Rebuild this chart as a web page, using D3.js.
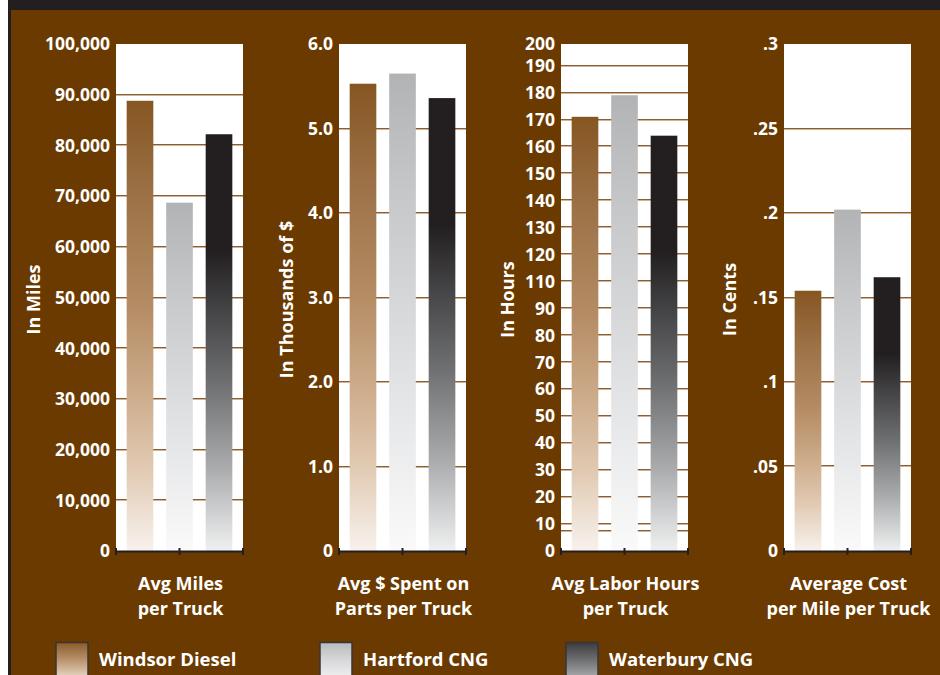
<!DOCTYPE html>
<html>
<head>
<meta charset="utf-8">
<script src="https://cdn.jsdelivr.net/npm/d3@7"></script>
<style>
  html, body { margin: 0; padding: 0; background: #ffffff; }
  svg { display: block; }
  text { font-family: "Open Sans", "Noto Sans", sans-serif; font-weight: 700; fill: #ffffff; }
</style>
</head>
<body>
<div id="chart"></div>
<script>
// ---------------- DATA ----------------
const series = ["Windsor Diesel", "Hartford CNG", "Waterbury CNG"];
const categoryLabels = [
  ["Avg Miles", "per Truck"],
  ["Avg $ Spent on", "Parts per Truck"],
  ["Avg Labor Hours", "per Truck"],
  ["Average Cost", "per Mile per Truck"]
];
const axisTitles = ["In Miles", "In Thousands of $", "In Hours", "In Cents"];

const milesValues = [88800, 68700, 82200];
const partsValues = [5.53, 5.65, 5.36];
const hoursValues = [171, 179, 164];
const costValues  = [0.154, 0.202, 0.162];

const milesTicks = [0, 10000, 20000, 30000, 40000, 50000, 60000, 70000, 80000, 90000, 100000];
const milesTickLabels = ["0", "10,000", "20,000", "30,000", "40,000", "50,000", "60,000", "70,000", "80,000", "90.000", "100,000"];
const partsTicks = [0, 1, 2, 3, 4, 5, 6];
const partsTickLabels = ["0", "1.0", "2.0", "3.0", "4.0", "5.0", "6.0"];
const hoursTicks = [0, 10, 20, 30, 40, 50, 60, 70, 80, 90, 110, 120, 130, 140, 150, 160, 170, 180, 190, 200];
const hoursTickLabels = hoursTicks.map(String);
const hoursExtraGrid = [7.4];
const costTicks = [0, 0.05, 0.1, 0.15, 0.2, 0.25, 0.3];
const costTickLabels = ["0", ".05", ".1", ".15", ".2", ".25", ".3"];

// ---------------- LAYOUT ----------------
const W = 940, H = 675;
const plotTop = 44, plotBottom = 551, plotW = 127;
const panelLefts = [116, 339, 561, 784];
const titleOffsets = [-76, -46, -47, -48];
const legendX = [56, 320, 566];

const svg = d3.select("#chart").append("svg").attr("width", W).attr("height", H);
const defs = svg.append("defs");

const gradStops = [
  [[0, "#865622"], [0.2, "#9b7045"], [0.45, "#b48b63"], [0.65, "#cdac8b"], [0.82, "#e1cab3"], [1, "#f8f2ed"]],
  [[0, "#b2b3b5"], [0.25, "#c6c7c9"], [0.65, "#e2e3e5"], [1, "#fafafa"]],
  [[0, "#231f20"], [0.28, "#231f20"], [0.45, "#4b4b4d"], [0.6, "#6f7072"], [0.8, "#aaabad"], [1, "#eff0f0"]]
];
const swatchStops = [
  [[0, "#8a5b2a"], [0.5, "#b8916a"], [1, "#e6d3c1"]],
  [[0, "#b9babc"], [0.5, "#d5d6d8"], [1, "#eeeeef"]],
  [[0, "#3c3c3e"], [0.5, "#6d6e70"], [1, "#a6a7a9"]]
];
function addGrad(id, stops) {
  const g = defs.append("linearGradient").attr("id", id)
    .attr("x1", 0).attr("y1", 0).attr("x2", 0).attr("y2", 1);
  stops.forEach(s => g.append("stop").attr("offset", s[0]).attr("stop-color", s[1]));
}
gradStops.forEach((stops, i) => addGrad("g" + i, stops));
swatchStops.forEach((stops, i) => addGrad("s" + i, stops));

// background
svg.append("rect").attr("x", 0).attr("y", 0).attr("width", W).attr("height", H).attr("fill", "#ffffff");
svg.append("rect").attr("x", 8).attr("y", 0).attr("width", W - 8).attr("height", H).attr("fill", "#231f20");
svg.append("rect").attr("x", 11).attr("y", 10).attr("width", W - 11).attr("height", H - 10).attr("fill", "#6a3a00");

// scales
const plotH = plotBottom - plotTop;
const hoursStep = plotH / 18.8;
const scales = [
  d3.scaleLinear().domain([0, 100000]).range([plotBottom, plotTop]),
  d3.scaleLinear().domain([0, 6]).range([plotBottom, plotTop]),
  d3.scaleLinear().domain([0, 90, 110, 190, 200])
    .range([plotBottom, plotBottom - 9 * hoursStep, plotBottom - 10 * hoursStep, plotBottom - 18 * hoursStep, plotTop]),
  d3.scaleLinear().domain([0, 0.3]).range([plotBottom, plotTop])
];
const valuesList = [milesValues, partsValues, hoursValues, costValues];
const ticksList = [milesTicks, partsTicks, hoursTicks, costTicks];
const labelsList = [milesTickLabels, partsTickLabels, hoursTickLabels, costTickLabels];
const extraGrid = [[], [], hoursExtraGrid, []];

const x = d3.scaleBand().domain(series).range([0, plotW]).paddingInner(0.325).paddingOuter(0.27);

panelLefts.forEach((left, p) => {
  const y = scales[p];
  const g = svg.append("g").attr("transform", `translate(${left},0)`);
  const ticks = ticksList[p];
  const maxV = y.domain()[y.domain().length - 1];

  g.append("rect").attr("x", 0).attr("y", plotTop).attr("width", plotW).attr("height", plotH).attr("fill", "#ffffff");

  const gridVals = ticks.filter(t => t > 0 && t < maxV).concat(extraGrid[p]);
  g.selectAll(".gd").data(gridVals).enter().append("line")
    .attr("x1", 0).attr("x2", plotW)
    .attr("y1", d => Math.round(y(d)) - 0.5).attr("y2", d => Math.round(y(d)) - 0.5)
    .attr("stroke", "#8b5e34").attr("stroke-width", 1);
  g.selectAll(".gl").data(gridVals).enter().append("line")
    .attr("x1", 0).attr("x2", plotW)
    .attr("y1", d => Math.round(y(d)) + 0.5).attr("y2", d => Math.round(y(d)) + 0.5)
    .attr("stroke", "#cdb59b").attr("stroke-width", 1);

  // bars
  g.selectAll(".bar").data(valuesList[p]).enter().append("rect")
    .attr("x", (d, i) => x(series[i]))
    .attr("width", x.bandwidth())
    .attr("y", d => y(d))
    .attr("height", d => plotBottom - y(d))
    .attr("fill", (d, i) => `url(#g${i})`);

  // tick labels
  g.selectAll(".tl").data(ticks).enter().append("text")
    .attr("x", -6).attr("y", d => y(d)).attr("dy", "0.36em")
    .attr("text-anchor", "end").attr("font-size", 17.5)
    .text((d, i) => labelsList[p][i]);

  // baseline axis
  g.append("line").attr("x1", -1).attr("x2", plotW + 1)
    .attr("y1", plotBottom + 0.5).attr("y2", plotBottom + 0.5)
    .attr("stroke", "#231f20").attr("stroke-width", 2);
  g.selectAll(".tk").data([0, plotW / 2, plotW]).enter().append("line")
    .attr("x1", d => d).attr("x2", d => d)
    .attr("y1", plotBottom - 3).attr("y2", plotBottom + 4)
    .attr("stroke", "#231f20").attr("stroke-width", 2);

  // axis title
  g.append("text")
    .attr("transform", `translate(${titleOffsets[p]},${(plotTop + plotBottom) / 2 + 2}) rotate(-90)`)
    .attr("text-anchor", "middle").attr("font-size", 18)
    .text(axisTitles[p]);

  // category label
  categoryLabels[p].forEach((line, li) => {
    g.append("text").attr("x", plotW / 2 + 1).attr("y", 590 + li * 25)
      .attr("text-anchor", "middle").attr("font-size", 18)
      .text(line);
  });
});

// legend
series.forEach((s, i) => {
  svg.append("rect").attr("x", legendX[i]).attr("y", 642.5).attr("width", 32).attr("height", 34)
    .attr("fill", `url(#s${i})`).attr("stroke", "#3a3535").attr("stroke-width", 1.5);
  svg.append("text").attr("x", legendX[i] + 43).attr("y", 666)
    .attr("font-size", 18.5).text(s);
});
</script>
</body>
</html>
